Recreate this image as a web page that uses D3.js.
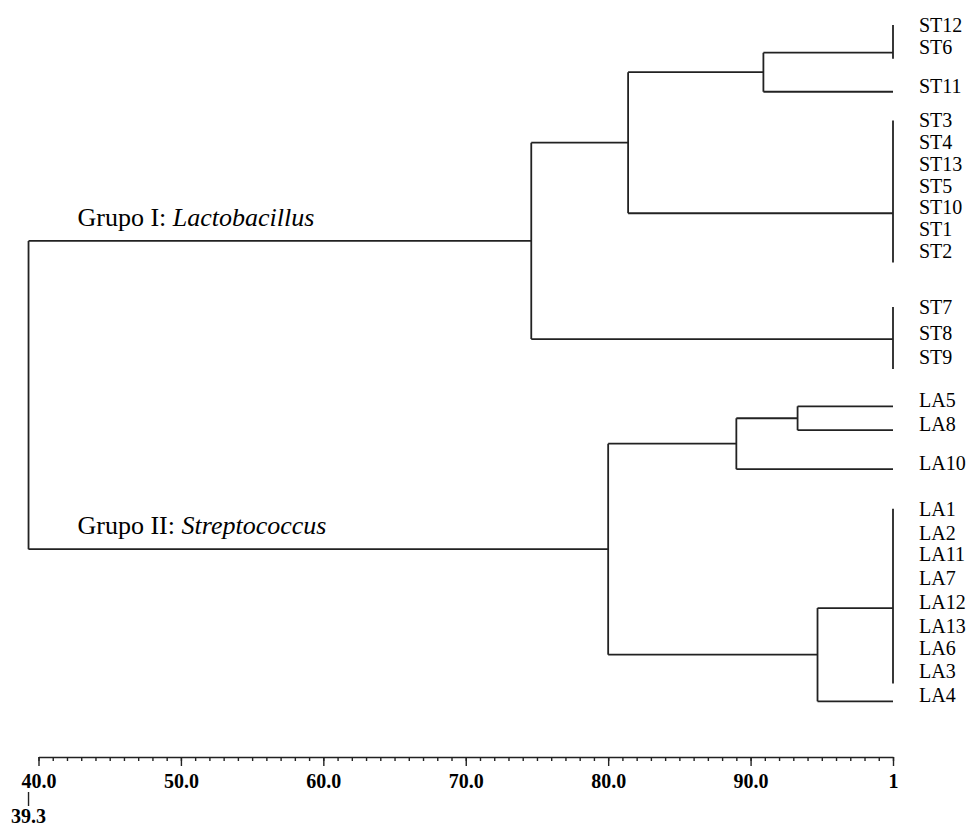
<!DOCTYPE html>
<html lang="es">
<head>
    <meta charset="UTF-8">
    <title>Dendrograma ST / LA</title>
    <style>
        body { margin: 0; background: #fff; }
        svg { display: block; }
        .branch { stroke: #222; stroke-width: 1.8; fill: none; }
        .leaf { font-family: "Liberation Serif", "Times New Roman", serif; font-size: 20px; fill: #000; }
        .group { font-family: "Liberation Serif", "Times New Roman", serif; font-size: 26px; fill: #000; }
        .axis text, .cut text { font-family: "Liberation Serif", "Times New Roman", serif; font-size: 20px; font-weight: bold; fill: #000; }
        .axis path, .axis line, .cut line { stroke: #222; stroke-width: 1.4; }
    </style>
</head>
<body>
<svg id="chart" width="970" height="827"></svg>

<script src="https://cdnjs.cloudflare.com/ajax/libs/d3/7.8.5/d3.min.js"></script>
<script>
    // strains in the order they appear, and their row (top to bottom)
    var strains = ["ST12", "ST6", "ST11", "ST3", "ST4", "ST13", "ST5", "ST10", "ST1", "ST2",
                   "ST7", "ST8", "ST9", "LA5", "LA8", "LA10",
                   "LA1", "LA2", "LA11", "LA7", "LA12", "LA13", "LA6", "LA3", "LA4"];
    var strainRows = [0, 1, 2.8, 4.4, 5.4, 6.4, 7.4, 8.4, 9.4, 10.4,
                      13.0, 14.2, 15.3, 17.3, 18.4, 20.2,
                      22.3, 23.4, 24.4, 25.5, 26.6, 27.7, 28.7, 29.8, 30.9];

    // groups of strains that are 100% similar, and the strain where the branch joins
    var tieNames = ["T1", "T2", "T3", "T4"];
    var tieMembers = [
        ["ST12", "ST6"],
        ["ST3", "ST4", "ST13", "ST5", "ST10", "ST1", "ST2"],
        ["ST7", "ST8", "ST9"],
        ["LA1", "LA2", "LA11", "LA7", "LA12", "LA13", "LA6", "LA3"]
    ];
    var tieJoin = ["ST6", "ST10", "ST8", "LA12"];

    // merges (similarity %)
    var nodeNames = ["n1", "n2", "grupoI", "n3", "n4", "n5", "grupoII", "root"];
    var nodeLeft  = ["T1", "n1", "n2", "LA5", "n3", "T4", "n4", "grupoI"];
    var nodeRight = ["ST11", "T2", "T3", "LA8", "LA10", "LA4", "n5", "grupoII"];
    var nodeSim   = [90.9, 81.4, 74.6, 93.3, 89.0, 94.7, 80.0, 39.3];

    var groupNodes  = ["grupoI", "grupoII"];
    var groupPrefix = ["Grupo I: ", "Grupo II: "];
    var groupGenus  = ["Lactobacillus", "Streptococcus"];

    var axisTicks = [40, 50, 60, 70, 80, 90, 100];
    var axisTickLabels = ["40.0", "50.0", "60.0", "70.0", "80.0", "90.0", "1"];
    var cutValue = 39.3;

    var svg = d3.select("#chart");

    var x = d3.scaleLinear().domain([40, 100]).range([38.5, 893]);
    var y = d3.scaleLinear().domain([0, 30.7]).range([25, 691]);
    var lineShift = 6;   // branch line sits a bit below the label centre
    var tiePad = 6;

    // build the tree
    var lookup = {};
    strains.forEach(function (s, i) {
        lookup[s] = { name: s, sim: 100, row: strainRows[i] };
    });
    tieNames.forEach(function (t, i) {
        lookup[t] = { name: t, sim: 100, tie: true, join: tieJoin[i],
                      children: tieMembers[i].map(function (m) { return lookup[m]; }) };
    });
    nodeNames.forEach(function (n, i) {
        lookup[n] = { name: n, sim: nodeSim[i], children: [lookup[nodeLeft[i]], lookup[nodeRight[i]]] };
    });

    var root = d3.hierarchy(lookup["root"]);

    root.eachAfter(function (d) {
        if (!d.children) {
            d.py = y(d.data.row) + lineShift;
        } else if (d.data.tie) {
            d.py = d.children.find(function (c) { return c.data.name === d.data.join; }).py;
        } else {
            d.py = (d.children[0].py + d.children[1].py) / 2;
        }
        d.px = x(d.data.sim);
    });

    var g = svg.append("g");

    // vertical connectors
    root.descendants().filter(function (d) { return d.children; }).forEach(function (d) {
        var ys = d.children.map(function (c) { return c.py; });
        var y0 = d3.min(ys), y1 = d3.max(ys);
        if (d.data.tie) { y0 -= tiePad; y1 += tiePad; }
        g.append("line").attr("class", "branch")
            .attr("x1", d.px).attr("x2", d.px)
            .attr("y1", y0).attr("y2", y1);
    });

    // horizontal branches
    root.descendants().filter(function (d) { return d.parent && d.parent.data.sim < d.data.sim; })
        .forEach(function (d) {
            g.append("line").attr("class", "branch")
                .attr("x1", d.parent.px).attr("x2", d.px)
                .attr("y1", d.py).attr("y2", d.py);
        });

    // strain labels
    g.selectAll(".leaf")
        .data(root.leaves())
        .enter().append("text")
        .attr("class", "leaf")
        .attr("x", x(100) + 26)
        .attr("y", function (d) { return d.py - lineShift; })
        .attr("dy", "0.35em")
        .text(function (d) { return d.data.name; });

    // group labels
    groupNodes.forEach(function (name, i) {
        var node = root.descendants().find(function (d) { return d.data.name === name; });
        var t = g.append("text").attr("class", "group")
            .attr("x", x(cutValue) + 49)
            .attr("y", node.py - 15);
        t.append("tspan").text(groupPrefix[i]);
        t.append("tspan").style("font-style", "italic").text(groupGenus[i]);
    });

    // scale at the bottom
    var axisY = 757;
    var minor = svg.append("g").attr("class", "axis")
        .attr("transform", "translate(0," + axisY + ")")
        .call(d3.axisBottom(x).tickValues(d3.range(40, 101, 1)).tickSize(4).tickSizeOuter(0).tickFormat(""));
    minor.selectAll("text").remove();

    var major = svg.append("g").attr("class", "axis")
        .attr("transform", "translate(0," + axisY + ")")
        .call(d3.axisBottom(x).tickValues(axisTicks).tickSize(9).tickSizeOuter(0)
            .tickFormat(function (d, i) { return axisTickLabels[i]; }));
    major.select(".domain").remove();
    major.selectAll("text").attr("y", 31).attr("dy", 0);

    // cut-off marker
    var cut = svg.append("g").attr("class", "cut");
    cut.append("line")
        .attr("x1", x(cutValue)).attr("x2", x(cutValue))
        .attr("y1", 792).attr("y2", 806);
    cut.append("text")
        .attr("x", x(cutValue))
        .attr("y", 823)
        .attr("text-anchor", "middle")
        .text(cutValue.toFixed(1));
</script>
</body>
</html>
